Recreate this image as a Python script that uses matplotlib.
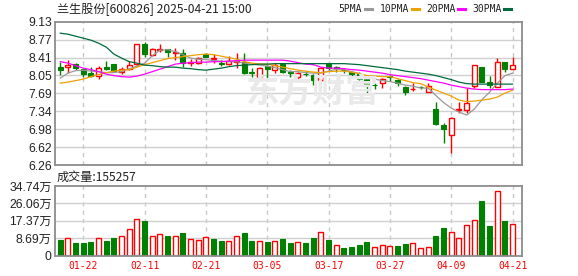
import matplotlib
matplotlib.use("Agg")
import matplotlib.pyplot as plt
from matplotlib.lines import Line2D
import numpy as np

# ---------------- data ----------------
dates = ["01-17","01-20","01-21","01-22","01-23","01-24","01-27",
         "02-05","02-06","02-07","02-10","02-11","02-12","02-13","02-14","02-17","02-18","02-19","02-20","02-21",
         "02-24","02-25","02-26","02-27","02-28",
         "03-03","03-04","03-05","03-06","03-07","03-10","03-11","03-12","03-13","03-14","03-17","03-18","03-19",
         "03-20","03-21","03-24","03-25","03-26","03-27","03-28","03-31",
         "04-01","04-02","04-03","04-07","04-08","04-09","04-10","04-11","04-14","04-15","04-16","04-17","04-18","04-21"]

opens  = [8.22,8.23,8.28,8.18,8.11,8.04,8.22,8.28,8.12,8.18,8.28,8.68,8.47,8.56,8.58,8.51,8.51,8.30,8.30,8.48,
          8.38,8.31,8.28,8.32,8.33,8.12,8.03,8.24,8.16,8.28,8.12,8.02,8.09,8.06,7.96,8.30,8.22,8.17,8.12,8.08,
          7.98,7.87,7.90,8.04,7.96,7.83,7.78,7.83,7.73,7.38,7.06,6.87,7.37,7.36,7.85,8.22,7.93,7.83,8.32,8.18]
highs  = [8.33,8.36,8.31,8.21,8.23,8.24,8.34,8.28,8.23,8.35,8.68,8.73,8.60,8.68,8.59,8.60,8.58,8.38,8.42,8.50,
          8.48,8.36,8.44,8.50,8.50,8.20,8.23,8.26,8.30,8.30,8.16,8.12,8.15,8.08,8.23,8.31,8.25,8.21,8.15,8.13,
          8.04,7.90,8.01,8.06,7.98,7.85,7.90,7.85,7.91,7.53,7.11,7.23,7.52,7.80,8.26,8.22,8.04,8.40,8.32,8.42]
lows   = [8.06,8.11,8.16,8.02,8.03,7.98,8.16,8.12,8.08,8.16,8.24,8.43,8.45,8.52,8.42,8.36,8.23,8.25,8.28,8.42,
          8.30,8.24,8.26,8.20,8.08,8.02,8.03,8.01,8.11,8.10,8.02,7.96,8.04,7.86,7.95,8.16,8.13,8.10,8.04,7.96,
          7.71,7.78,7.81,7.94,7.85,7.66,7.74,7.78,7.73,7.06,6.71,6.51,7.31,7.31,7.81,7.93,7.80,7.83,8.13,8.18]
closes = [8.16,8.26,8.20,8.08,8.05,8.21,8.18,8.14,8.18,8.26,8.68,8.48,8.58,8.59,8.52,8.52,8.30,8.32,8.40,8.43,
          8.41,8.28,8.34,8.34,8.10,8.10,8.21,8.18,8.26,8.12,8.10,8.10,8.08,7.96,8.21,8.21,8.20,8.16,8.08,7.98,
          7.85,7.86,7.98,8.03,7.91,7.72,7.79,7.82,7.85,7.08,6.98,7.20,7.39,7.50,8.26,7.93,7.86,8.32,8.18,8.26]

ma5  = [8.00,8.10,8.15,8.16,8.14,8.13,8.11,8.11,8.13,8.19,8.24,8.30,8.45,8.56,8.57,8.53,8.47,8.40,8.38,8.37,
        8.35,8.34,8.33,8.33,8.30,8.28,8.26,8.24,8.21,8.17,8.13,8.13,8.11,8.10,8.10,8.14,8.18,8.17,8.13,8.09,
        8.03,7.98,7.95,7.93,7.90,7.86,7.84,7.80,7.80,7.65,7.51,7.40,7.32,7.26,7.38,7.57,7.72,7.90,8.05,8.10]
ma10 = [7.90,7.92,7.95,7.98,8.03,8.07,8.11,8.14,8.16,8.17,8.22,8.27,8.31,8.35,8.39,8.41,8.43,8.45,8.47,8.48,
        8.47,8.44,8.41,8.38,8.33,8.30,8.28,8.28,8.25,8.22,8.19,8.16,8.14,8.12,8.11,8.13,8.14,8.14,8.12,8.09,
        8.05,8.04,8.03,8.03,7.99,7.95,7.91,7.89,7.82,7.76,7.70,7.64,7.56,7.53,7.54,7.56,7.58,7.62,7.70,7.76]
ma20 = [8.33,8.30,8.25,8.20,8.17,8.13,8.08,8.05,8.03,8.02,8.04,8.08,8.13,8.18,8.23,8.28,8.30,8.31,8.32,8.32,
        8.33,8.33,8.34,8.35,8.36,8.36,8.36,8.36,8.36,8.36,8.34,8.31,8.28,8.27,8.22,8.20,8.20,8.19,8.17,8.16,
        8.14,8.12,8.10,8.07,8.05,8.03,8.01,7.99,7.96,7.93,7.90,7.86,7.83,7.80,7.78,7.77,7.77,7.77,7.77,7.78]
ma30 = [8.90,8.88,8.84,8.80,8.76,8.70,8.62,8.48,8.40,8.33,8.30,8.26,8.25,8.23,8.22,8.22,8.20,8.19,8.17,8.16,
        8.18,8.20,8.23,8.25,8.26,8.27,8.28,8.28,8.29,8.29,8.29,8.29,8.29,8.29,8.29,8.29,8.29,8.29,8.28,8.27,
        8.25,8.23,8.21,8.19,8.17,8.14,8.12,8.10,8.08,8.05,8.01,7.97,7.92,7.89,7.88,7.88,7.88,7.88,7.88,7.88]

volumes = [7.8,8.6,6.3,6.3,6.8,8.6,7.3,8.8,9.6,13.1,18.1,17.3,9.6,10.6,9.8,9.6,11.3,8.1,7.6,9.1,
           8.3,7.3,7.1,9.6,11.3,7.3,7.1,6.8,7.1,8.1,6.3,6.8,6.3,8.8,11.6,7.8,5.1,3.8,4.3,5.3,
           6.8,4.1,5.1,4.6,4.8,5.8,6.1,3.6,4.1,9.8,13.8,11.6,8.6,15.3,17.6,27.2,14.8,32.0,17.3,15.53]
vol_up = [0,1,0,0,0,1,0,0,1,1,1,0,1,1,0,1,0,1,1,1,
          0,0,1,1,0,0,1,0,1,0,0,1,0,0,1,0,1,0,0,0,
          0,1,1,1,0,0,1,1,1,0,0,1,1,1,1,0,0,1,0,1]

price_ticks = ["6.26","6.62","6.98","7.34","7.69","8.05","8.41","8.77","9.13"]
vol_ticks = ["0","8.69万","17.37万","26.06万","34.74万"]
label_dates = ["01-22","02-11","02-21","03-05","03-17","03-27","04-09","04-21"]

title = "兰生股份[600826] 2025-04-21 15:00"
vol_title = "成交量:155257"
watermark = "东方财富"
ma_names = ["5PMA","10PMA","20PMA","30PMA"]

# ---------------- style ----------------
RED = "#ff0000"
GREEN = "#008000"
MA_COLORS = ["#999999", "#f0a000", "#ff00ff", "#006b3c"]
GRID = "#d0d0d0"
FRAME = "#8c8c8c"
CJK = ["Liberation Sans", "Noto Sans CJK SC", "DejaVu Sans"]

W, H = 578, 276
fig = plt.figure(figsize=(W/100, H/100), dpi=100)

def fx(px): return px / W
def fy(py): return 1 - py / H

L, R = 55.3, 522.3
ax = fig.add_axes([fx(L), fy(165), fx(R - L), (165 - 21.7) / H])
axv = fig.add_axes([fx(L), fy(255.6), fx(R - L), (255.6 - 186) / H])

n = len(dates)
x = np.arange(n)
xlim = (-0.65, 60.26)
bw = 0.65

# watermark
fig.text(fx(312), fy(93), watermark, family=["Noto Sans CJK SC"], fontweight="bold",
         fontsize=24, color="#e9e9e9", ha="center", va="center", zorder=0)

# price ticks
pvals = np.linspace(6.26, 9.13, len(price_ticks))
ax.set_ylim(6.26, 9.13)
ax.set_xlim(*xlim)
ax.set_yticks(pvals)
ax.set_yticklabels(price_ticks)
for yv in pvals[1:-1]:
    ax.axhline(yv, color=GRID, lw=1.0, zorder=0.5)

date_idx = [dates.index(d) for d in label_dates]
for a in (ax, axv):
    for di in date_idx:
        a.axvline(di, color="#c8c8c8", lw=1.0, ls=(0, (3, 3)), zorder=0.5)
    a.set_facecolor("none")
    for s in a.spines.values():
        s.set_color(FRAME)
        s.set_linewidth(1.3)
    a.tick_params(axis="y", length=0, pad=2.5, labelsize=8.7, labelcolor="#222222")
    for lab in a.get_yticklabels():
        lab.set_family(CJK)

ax.set_xticks([])

# candles
for i in range(n):
    o, h, l, c = opens[i], highs[i], lows[i], closes[i]
    up = c >= o
    col = RED if up else GREEN
    top, bot = max(o, c), min(o, c)
    hgt = max(top - bot, 0.006)
    ax.plot([i, i], [top, h], color=col, lw=1.0, zorder=2, solid_capstyle="butt")
    ax.plot([i, i], [l, bot], color=col, lw=1.0, zorder=2, solid_capstyle="butt")
    if up:
        ax.bar(i, hgt, bottom=bot, width=bw, facecolor="white", edgecolor=col, lw=1.0, zorder=2.1)
    else:
        ax.bar(i, hgt, bottom=bot, width=bw, facecolor=col, edgecolor=col, lw=0.8, zorder=2.1)

# moving averages
for ma, colr in zip([ma5, ma10, ma20, ma30], MA_COLORS):
    ax.plot(x, ma, color=colr, lw=0.9, zorder=3)

# volume
axv.set_xlim(*xlim)
axv.set_ylim(0, 34.74)
vvals = np.linspace(0, 34.74, len(vol_ticks))
axv.set_yticks(vvals)
axv.set_yticklabels(vol_ticks)
for lab in axv.get_yticklabels():
    lab.set_family(CJK)
for yv in vvals[1:-1]:
    axv.axhline(yv, color=GRID, lw=1.0, zorder=0.5)
for i in range(n):
    if vol_up[i]:
        axv.bar(i, volumes[i], width=bw, facecolor="white", edgecolor=RED, lw=1.0, zorder=2)
    else:
        axv.bar(i, volumes[i], width=bw, facecolor=GREEN, edgecolor=GREEN, lw=0.8, zorder=2)

axv.set_xticks(date_idx)
axv.set_xticklabels(label_dates)
axv.tick_params(axis="x", length=0, pad=4, labelsize=7, labelcolor=RED)
for lab in axv.get_xticklabels():
    lab.set_family("DejaVu Sans Mono")

# titles
fig.text(fx(57), fy(8.5), title, family=["Noto Sans CJK SC", "DejaVu Sans"], fontsize=8.7,
         color="#222222", ha="left", va="center")
fig.text(fx(57), fy(177.5), vol_title, family=["Noto Sans CJK SC", "DejaVu Sans"], fontsize=8.7,
         color="#222222", ha="left", va="center")

# legend
leg_x = [338, 380, 426, 472]
leg_w = [24, 29, 29, 29]
for nm, colr, lx, lw_ in zip(ma_names, MA_COLORS, leg_x, leg_w):
    fig.text(fx(lx), fy(8.5), nm, family="DejaVu Sans Mono", fontsize=7, color="#222222",
             ha="left", va="center")
    x0 = lx + lw_ + 3
    fig.add_artist(Line2D([fx(x0), fx(x0 + 7)], [fy(8.5), fy(8.5)], color=colr, lw=2.2,
                          transform=fig.transFigure))

fig.savefig("out.png", dpi=100)
